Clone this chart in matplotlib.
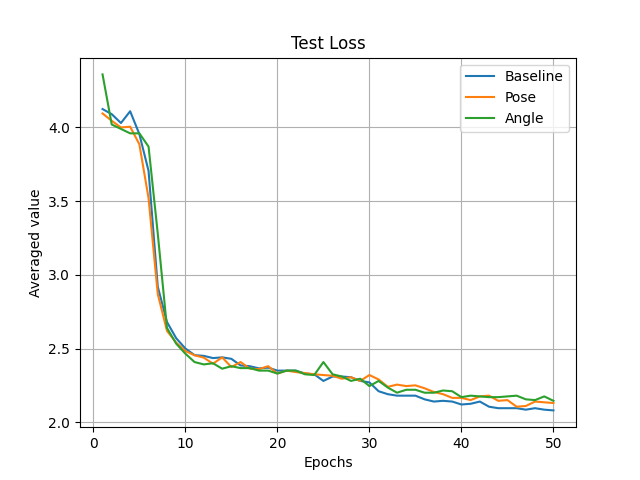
import matplotlib
matplotlib.use('Agg')
import matplotlib.pyplot as plt

epochs = list(range(1, 51))

baseline = [4.125, 4.09, 4.03, 4.11, 3.955, 3.705, 2.92, 2.68, 2.57, 2.50,
            2.455, 2.45, 2.435, 2.44, 2.43, 2.385, 2.38, 2.365, 2.37, 2.35,
            2.35, 2.35, 2.33, 2.325, 2.28, 2.31, 2.31, 2.305, 2.28, 2.27,
            2.21, 2.19, 2.18, 2.18, 2.18, 2.155, 2.14, 2.145, 2.14, 2.12,
            2.125, 2.14, 2.105, 2.095, 2.095, 2.095, 2.085, 2.095, 2.085, 2.08]

pose = [4.095, 4.045, 4.0, 4.005, 3.886, 3.52, 2.87, 2.62, 2.54, 2.483,
        2.454, 2.438, 2.397, 2.44, 2.374, 2.408, 2.363, 2.36, 2.38, 2.33,
        2.35, 2.34, 2.333, 2.325, 2.32, 2.315, 2.295, 2.305, 2.28, 2.32,
        2.29, 2.24, 2.255, 2.245, 2.25, 2.23, 2.205, 2.19, 2.165, 2.165,
        2.15, 2.175, 2.18, 2.145, 2.15, 2.105, 2.11, 2.14, 2.135, 2.13]

angle = [4.36, 4.02, 3.99, 3.96, 3.96, 3.87, 3.28, 2.64, 2.533, 2.465,
         2.408, 2.392, 2.40, 2.363, 2.38, 2.367, 2.367, 2.35, 2.35, 2.33,
         2.35, 2.35, 2.325, 2.32, 2.408, 2.325, 2.31, 2.28, 2.295, 2.245,
         2.28, 2.235, 2.20, 2.22, 2.22, 2.20, 2.20, 2.215, 2.21, 2.17,
         2.18, 2.175, 2.17, 2.17, 2.175, 2.18, 2.155, 2.15, 2.175, 2.145]

fig, ax = plt.subplots(figsize=(6.4, 4.8), dpi=100)

ax.plot(epochs, baseline, label='Baseline')
ax.plot(epochs, pose, label='Pose')
ax.plot(epochs, angle, label='Angle')

ax.set_title('Test Loss')
ax.set_xlabel('Epochs')
ax.set_ylabel('Averaged value')
ax.grid(True)
ax.legend(loc='upper right')

plt.savefig('out.png', dpi=100)
